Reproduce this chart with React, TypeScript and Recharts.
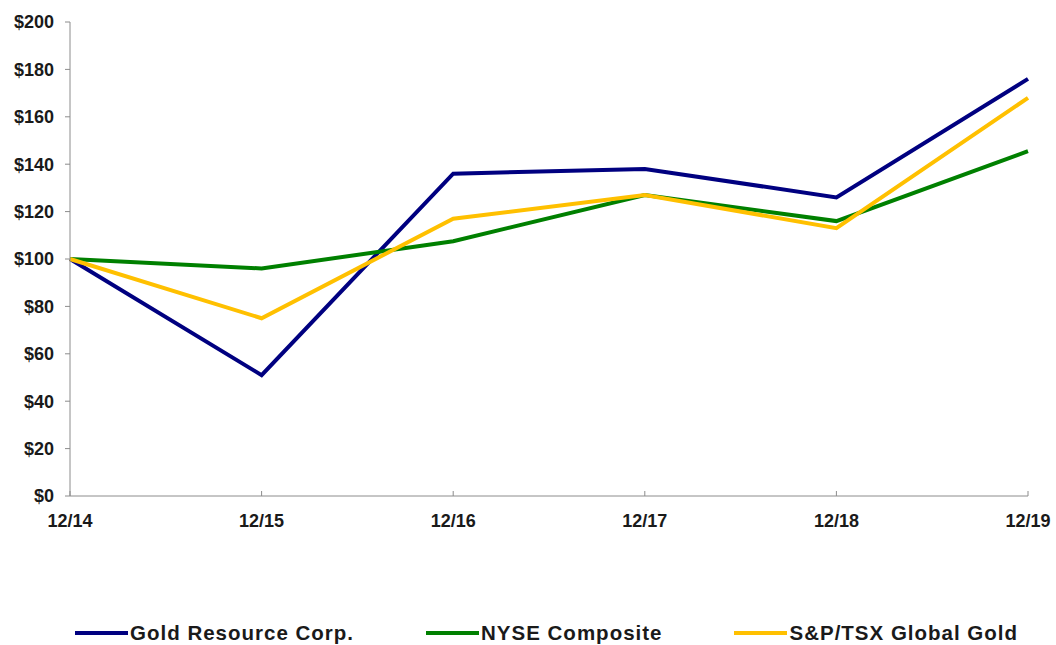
import React from "react";
import { LineChart, Line, XAxis, YAxis, Legend } from "recharts";

// period labels on the x axis
const periods = ["12/14", "12/15", "12/16", "12/17", "12/18", "12/19"];

// cumulative value of $100 invested
const goldResource = [100, 51, 136, 138, 126, 176];
const nyseComposite = [100, 96, 107.5, 127, 116, 145.5];
const spTsxGold = [100, 75, 117, 127, 113, 168];

const yTicks = [0, 20, 40, 60, 80, 100, 120, 140, 160, 180, 200];

const SERIES = [
  { key: "gold", name: "Gold Resource Corp.", colour: "#000080" },
  { key: "nyse", name: "NYSE Composite", colour: "#008000" },
  { key: "sptsx", name: "S&P/TSX Global Gold", colour: "#FFC000" },
];

const data = periods.map((p, i) => ({
  period: p,
  gold: goldResource[i],
  nyse: nyseComposite[i],
  sptsx: spTsxGold[i],
}));

const FONT = "'Liberation Sans', Arial, sans-serif";
const AXIS = "#8c8c8c";

const CustomLegend = () => (
  <div
    style={{
      display: "flex",
      alignItems: "center",
      height: 24,
      paddingLeft: 75,
      gap: 72,
      fontFamily: FONT,
      fontWeight: "bold",
      fontSize: 20.5,
      letterSpacing: 1,
      color: "#1a1a1a",
    }}
  >
    {SERIES.map((s) => (
      <div key={s.key} style={{ display: "flex", alignItems: "center" }}>
        <span
          style={{
            display: "inline-block",
            width: 53,
            height: 4,
            background: s.colour,
            marginRight: 2,
          }}
        />
        <span>{s.name}</span>
      </div>
    ))}
  </div>
);

export default function App() {
  return (
    <div style={{ position: "absolute", left: 0, top: 0 }}>
      <LineChart
        width={1056}
        height={645}
        data={data}
        margin={{ top: 22, right: 28, left: 0, bottom: 0 }}
      >
        <XAxis
          dataKey="period"
          height={125}
          stroke={AXIS}
          tickSize={-5}
          tickMargin={23}
          tick={{ fill: "#1a1a1a", fontFamily: FONT, fontWeight: "bold", fontSize: 18 }}
          interval={0}
        />
        <YAxis
          width={70}
          domain={[0, 200]}
          ticks={yTicks}
          stroke={AXIS}
          tickSize={5}
          tickMargin={11}
          tickFormatter={(v) => `$${v}`}
          tick={{ fill: "#1a1a1a", fontFamily: FONT, fontWeight: "bold", fontSize: 18 }}
          interval={0}
        />
        <Legend verticalAlign="bottom" wrapperStyle={{ left: 0, width: 1056 }} content={<CustomLegend />} />
        {SERIES.map((s) => (
          <Line
            key={s.key}
            dataKey={s.key}
            name={s.name}
            type="linear"
            stroke={s.colour}
            strokeWidth={4}
            dot={false}
            activeDot={false}
            isAnimationActive={false}
          />
        ))}
      </LineChart>
    </div>
  );
}
